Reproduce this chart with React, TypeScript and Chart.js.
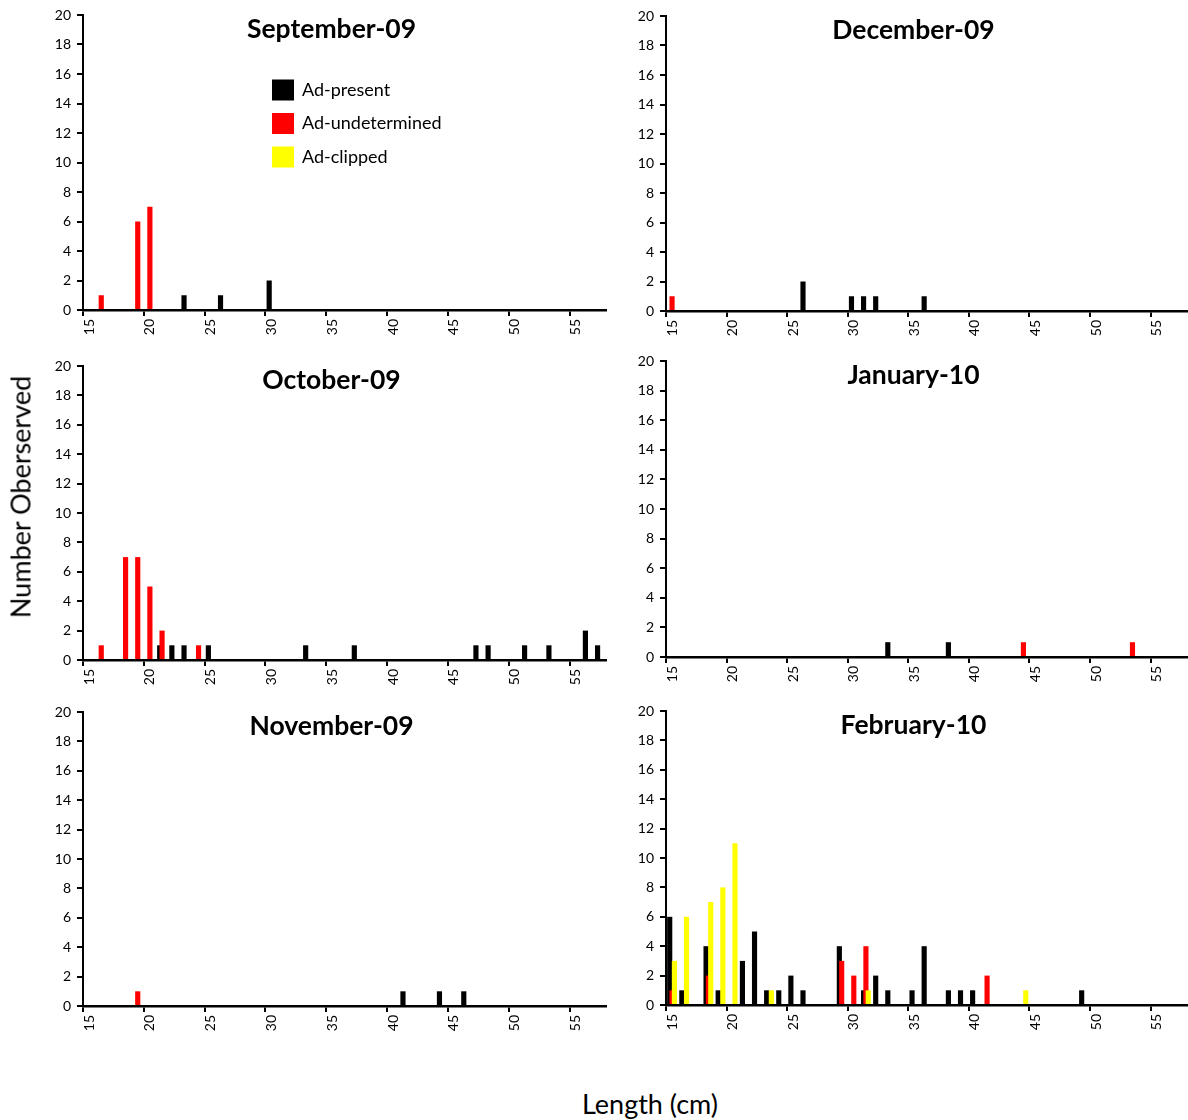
import React, { useEffect, useRef } from "react";
import { Chart, registerables } from "chart.js";

Chart.register(...registerables);

// Length classes (cm) along every category axis
const LENGTHS = [
  15, 16, 17, 18, 19, 20, 21, 22, 23, 24, 25, 26, 27, 28, 29, 30, 31, 32, 33, 34, 35, 36,
  37, 38, 39, 40, 41, 42, 43, 44, 45, 46, 47, 48, 49, 50, 51, 52, 53, 54, 55, 56, 57,
];

const SERIES = ["Ad-present", "Ad-undetermined", "Ad-clipped"];
const COLORS = ["#000000", "#FF0000", "#FFFF00"];

// Counts per length as [length, count] pairs
type Pairs = [number, number][];

const SEP_PRESENT: Pairs = [[23, 1], [26, 1], [30, 2]];
const SEP_UNDETERMINED: Pairs = [[16, 1], [19, 6], [20, 7]];
const SEP_CLIPPED: Pairs = [];

const OCT_PRESENT: Pairs = [
  [21, 1], [22, 1], [23, 1], [25, 1], [33, 1], [37, 1], [47, 1], [48, 1], [51, 1], [53, 1], [56, 2], [57, 1],
];
const OCT_UNDETERMINED: Pairs = [[16, 1], [18, 7], [19, 7], [20, 5], [21, 2], [24, 1]];
const OCT_CLIPPED: Pairs = [];

const NOV_PRESENT: Pairs = [[41, 1], [44, 1], [46, 1]];
const NOV_UNDETERMINED: Pairs = [[19, 1]];
const NOV_CLIPPED: Pairs = [];

const DEC_PRESENT: Pairs = [[26, 2], [30, 1], [31, 1], [32, 1], [36, 1]];
const DEC_UNDETERMINED: Pairs = [[15, 1]];
const DEC_CLIPPED: Pairs = [];

const JAN_PRESENT: Pairs = [[33, 1], [38, 1]];
const JAN_UNDETERMINED: Pairs = [[44, 1], [53, 1]];
const JAN_CLIPPED: Pairs = [];

const FEB_PRESENT: Pairs = [
  [15, 6], [16, 1], [18, 4], [19, 1], [21, 3], [22, 5], [23, 1], [24, 1], [25, 2], [26, 1],
  [29, 4], [31, 1], [32, 2], [33, 1], [35, 1], [36, 4], [38, 1], [39, 1], [40, 1], [49, 1],
];
const FEB_UNDETERMINED: Pairs = [[15, 1], [18, 2], [29, 3], [30, 2], [31, 4], [41, 2]];
const FEB_CLIPPED: Pairs = [[15, 3], [16, 6], [18, 7], [19, 8], [20, 11], [23, 1], [31, 1], [44, 1]];

const Y_MAX = 20;
const Y_STEP = 2;

const FONT = "Lato, 'Liberation Sans', sans-serif";

type PanelSpec = {
  title: string;
  series: Pairs[];
  left: number;
  right: number;
  top: number;
  bottom: number;
  legend?: boolean;
};

const PANELS: PanelSpec[] = [
  { title: "September-09", series: [SEP_PRESENT, SEP_UNDETERMINED, SEP_CLIPPED], left: 83, right: 606, top: 15, bottom: 310, legend: true },
  { title: "December-09", series: [DEC_PRESENT, DEC_UNDETERMINED, DEC_CLIPPED], left: 666, right: 1187, top: 16, bottom: 311 },
  { title: "October-09", series: [OCT_PRESENT, OCT_UNDETERMINED, OCT_CLIPPED], left: 83, right: 606, top: 366, bottom: 660 },
  { title: "January-10", series: [JAN_PRESENT, JAN_UNDETERMINED, JAN_CLIPPED], left: 666, right: 1187, top: 361, bottom: 657 },
  { title: "November-09", series: [NOV_PRESENT, NOV_UNDETERMINED, NOV_CLIPPED], left: 83, right: 606, top: 712, bottom: 1006 },
  { title: "February-10", series: [FEB_PRESENT, FEB_UNDETERMINED, FEB_CLIPPED], left: 666, right: 1187, top: 711, bottom: 1005 },
];

const Y_AXIS_W = 60;
const X_AXIS_H = 40;
const PAD_TOP = 14;
const PAD_RIGHT = 1;

function toSeries(pairs: Pairs): (number | null)[] {
  const lookup = new Map(pairs);
  return LENGTHS.map((len) => (lookup.has(len) ? (lookup.get(len) as number) : null));
}

// Draw series in their natural order so later series sit on top of earlier ones
const seriesOrderPlugin = {
  id: "seriesOrder",
  beforeDatasetsDraw(chart: any) {
    const metas = chart.getSortedVisibleDatasetMetas();
    const { ctx, chartArea } = chart;
    ctx.save();
    ctx.beginPath();
    ctx.rect(chartArea.left, chartArea.top - 2, chartArea.right - chartArea.left, chartArea.bottom - chartArea.top + 2);
    ctx.clip();
    for (const meta of metas) meta.controller.draw();
    ctx.restore();
    return false;
  },
};

const panelTitlePlugin = {
  id: "panelTitle",
  afterDraw(chart: any, _args: any, opts: any) {
    if (!opts || !opts.text) return;
    const { ctx, chartArea } = chart;
    ctx.save();
    ctx.font = `bold 26.5px ${FONT}`;
    ctx.fillStyle = "#000";
    ctx.textAlign = "center";
    ctx.textBaseline = "middle";
    ctx.fillText(opts.text, (chartArea.left + chartArea.right) / 2 - 13, chartArea.top + 14);
    ctx.restore();
  },
};

const swatchLegendPlugin = {
  id: "swatchLegend",
  afterDraw(chart: any, _args: any, opts: any) {
    if (!opts || !opts.show) return;
    const { ctx, chartArea } = chart;
    const x0 = chartArea.left + 189;
    const y0 = chartArea.top + 75;
    ctx.save();
    ctx.font = `18px ${FONT}`;
    ctx.textBaseline = "middle";
    ctx.textAlign = "left";
    chart.data.datasets.forEach((ds: any, i: number) => {
      const cy = y0 + i * 33.5;
      ctx.fillStyle = ds.backgroundColor;
      ctx.fillRect(x0, cy - 10.5, 22, 21);
      ctx.fillStyle = "#000";
      ctx.fillText(ds.label, x0 + 30, cy);
    });
    ctx.restore();
  },
};

function Panel({ spec }: { spec: PanelSpec }) {
  const ref = useRef<HTMLCanvasElement | null>(null);
  const canvasLeft = spec.left - Y_AXIS_W;
  const canvasTop = spec.top - PAD_TOP;
  const width = spec.right - canvasLeft + PAD_RIGHT;
  const height = spec.bottom - spec.top + PAD_TOP + X_AXIS_H;

  useEffect(() => {
    if (!ref.current) return;
    const chart = new Chart(ref.current, {
      type: "bar",
      data: {
        labels: LENGTHS.map(String),
        datasets: spec.series.map((pairs, i) => ({
          label: SERIES[i],
          data: toSeries(pairs),
          backgroundColor: COLORS[i],
          borderWidth: 0,
          categoryPercentage: 0.58,
          barPercentage: 2.2,
        })),
      },
      options: {
        responsive: false,
        animation: false,
        devicePixelRatio: 1,
        layout: { padding: { top: PAD_TOP, right: PAD_RIGHT, left: 0, bottom: 0 } },
        plugins: {
          legend: { display: false },
          tooltip: { enabled: false },
          panelTitle: { text: spec.title },
          swatchLegend: { show: !!spec.legend },
        } as any,
        scales: {
          x: {
            type: "category",
            offset: true,
            grid: {
              offset: true,
              drawOnChartArea: false,
              drawTicks: true,
              tickLength: 6,
              lineWidth: 2,
              color: (c: any) =>
                c.type === "tick" && LENGTHS[c.index] % 5 === 0 ? "#000" : "rgba(0,0,0,0)",
            },
            border: { display: true, color: "#000", width: 2.5, z: 1 },
            ticks: {
              autoSkip: false,
              minRotation: 90,
              maxRotation: 90,
              padding: 3,
              color: "#000",
              font: { family: FONT, size: 14 },
              callback: (_v: any, i: number) => (LENGTHS[i] % 5 === 0 ? String(LENGTHS[i]) : ""),
            },
            afterFit: (s: any) => {
              s.height = X_AXIS_H;
              s.paddingLeft = 0;
              s.paddingRight = 0;
            },
          },
          y: {
            min: 0,
            max: Y_MAX,
            grid: {
              drawOnChartArea: false,
              drawTicks: true,
              tickLength: 6,
              lineWidth: 2,
              color: "#000",
            },
            border: { display: true, color: "#000", width: 2, z: 1 },
            ticks: {
              stepSize: Y_STEP,
              padding: 6,
              color: "#000",
              font: { family: FONT, size: 14 },
            },
            afterFit: (s: any) => {
              s.width = Y_AXIS_W;
              s.paddingTop = 0;
              s.paddingBottom = 0;
            },
          },
        },
      } as any,
      plugins: [seriesOrderPlugin, panelTitlePlugin, swatchLegendPlugin],
    });
    return () => chart.destroy();
  }, [spec]);

  return (
    <canvas
      ref={ref}
      width={width}
      height={height}
      style={{ position: "absolute", left: canvasLeft, top: canvasTop, width, height }}
    />
  );
}

export default function App() {
  return (
    <div
      style={{
        position: "absolute",
        left: 0,
        top: 0,
        width: 1188,
        height: 1120,
        background: "#fff",
        fontFamily: FONT,
        overflow: "hidden",
      }}
    >
      {PANELS.map((p) => (
        <Panel key={p.title} spec={p} />
      ))}
      <div
        style={{
          position: "absolute",
          left: 20,
          top: 497,
          transform: "translate(-50%, -50%) rotate(-90deg)",
          fontSize: 27,
          whiteSpace: "nowrap",
          color: "#000",
        }}
      >
        Number Oberserved
      </div>
      <div
        style={{
          position: "absolute",
          left: 650,
          top: 1103,
          transform: "translate(-50%, -50%)",
          fontSize: 27,
          whiteSpace: "nowrap",
          color: "#000",
        }}
      >
        Length (cm)
      </div>
    </div>
  );
}
